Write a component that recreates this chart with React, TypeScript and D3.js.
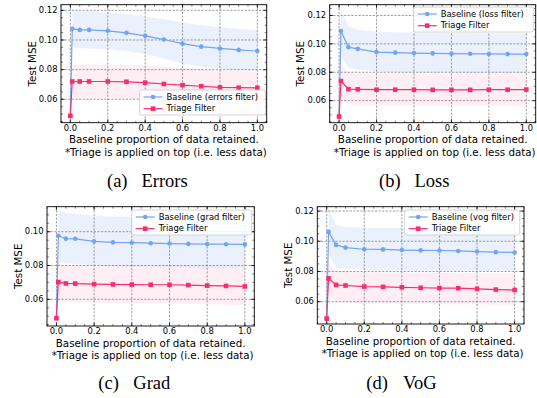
import React from 'react';
import * as d3 from 'd3';

// x positions shared by every panel (baseline proportion of data retained)
const xs = [0, 0.01, 0.05, 0.1, 0.2, 0.3, 0.4, 0.5, 0.6, 0.7, 0.8, 0.9, 1.0];

// (a) errors
const errBase = [0.0488, 0.1075, 0.1068, 0.1068, 0.1062, 0.1048, 0.1028, 0.1003, 0.0975, 0.0955, 0.0943, 0.0933, 0.0925];
const errBaseHi = [null, 0.1200, 0.1198, 0.1195, 0.1185, 0.1172, 0.1158, 0.1140, 0.1118, 0.1100, 0.1087, 0.1075, 0.1066];
const errBaseLo = [null, 0.0950, 0.0945, 0.0942, 0.0938, 0.0925, 0.0905, 0.0875, 0.0840, 0.0820, 0.0805, 0.0795, 0.0790];
const errTri = [0.0488, 0.0720, 0.0720, 0.0720, 0.0720, 0.0718, 0.0712, 0.0703, 0.0695, 0.0688, 0.0680, 0.0678, 0.0677];
const errTriHi = [null, 0.0835, 0.0835, 0.0835, 0.0834, 0.0832, 0.0828, 0.0820, 0.0810, 0.0802, 0.0795, 0.0790, 0.0788];
const errTriLo = [null, 0.0605, 0.0605, 0.0605, 0.0605, 0.0604, 0.0598, 0.0590, 0.0582, 0.0575, 0.0568, 0.0566, 0.0566];

// (b) loss
const lossBase = [0.0488, 0.1090, 0.0977, 0.0965, 0.0942, 0.0938, 0.0935, 0.0933, 0.0931, 0.0930, 0.0929, 0.0928, 0.0928];
const lossBaseHi = [null, 0.1245, 0.1125, 0.1100, 0.1085, 0.1082, 0.1080, 0.1078, 0.1077, 0.1076, 0.1075, 0.1075, 0.1075];
const lossBaseLo = [null, 0.0920, 0.0830, 0.0820, 0.0805, 0.0800, 0.0798, 0.0797, 0.0796, 0.0795, 0.0795, 0.0795, 0.0795];
const lossTri = [0.0488, 0.0738, 0.0681, 0.0680, 0.0677, 0.0677, 0.0677, 0.0676, 0.0676, 0.0676, 0.0677, 0.0677, 0.0678];
const lossTriHi = [null, 0.0860, 0.0800, 0.0795, 0.0792, 0.0791, 0.0790, 0.0790, 0.0790, 0.0790, 0.0790, 0.0790, 0.0790];
const lossTriLo = [null, 0.0620, 0.0575, 0.0568, 0.0565, 0.0564, 0.0564, 0.0564, 0.0564, 0.0564, 0.0565, 0.0565, 0.0566];

// (c) grad
const gradBase = [0.0488, 0.0976, 0.0959, 0.0958, 0.0943, 0.0937, 0.0935, 0.0932, 0.0930, 0.0928, 0.0927, 0.0926, 0.0925];
const gradBaseHi = [null, 0.1130, 0.1110, 0.1105, 0.1095, 0.1090, 0.1088, 0.1085, 0.1082, 0.1080, 0.1078, 0.1077, 0.1075];
const gradBaseLo = [null, 0.0820, 0.0812, 0.0810, 0.0800, 0.0795, 0.0793, 0.0792, 0.0790, 0.0788, 0.0787, 0.0786, 0.0785];
const gradTri = [0.0488, 0.0702, 0.0694, 0.0693, 0.0690, 0.0688, 0.0687, 0.0686, 0.0686, 0.0684, 0.0681, 0.0679, 0.0676];
const gradTriHi = [null, 0.0810, 0.0805, 0.0803, 0.0800, 0.0798, 0.0797, 0.0796, 0.0796, 0.0795, 0.0793, 0.0791, 0.0788];
const gradTriLo = [null, 0.0590, 0.0585, 0.0583, 0.0580, 0.0578, 0.0577, 0.0576, 0.0576, 0.0573, 0.0570, 0.0568, 0.0565];

// (d) vog
const vogBase = [0.0488, 0.1062, 0.0976, 0.0958, 0.0947, 0.0946, 0.0942, 0.0940, 0.0939, 0.0936, 0.0932, 0.0928, 0.0926];
const vogBaseHi = [null, 0.1210, 0.1110, 0.1095, 0.1090, 0.1090, 0.1089, 0.1089, 0.1088, 0.1087, 0.1086, 0.1086, 0.1085];
const vogBaseLo = [null, 0.0910, 0.0830, 0.0818, 0.0810, 0.0808, 0.0806, 0.0805, 0.0805, 0.0805, 0.0805, 0.0805, 0.0805];
const vogTri = [0.0488, 0.0754, 0.0711, 0.0707, 0.0700, 0.0698, 0.0695, 0.0692, 0.0690, 0.0689, 0.0685, 0.0680, 0.0677];
const vogTriHi = [null, 0.0855, 0.0805, 0.0800, 0.0795, 0.0794, 0.0793, 0.0792, 0.0791, 0.0790, 0.0789, 0.0788, 0.0787];
const vogTriLo = [null, 0.0645, 0.0600, 0.0595, 0.0588, 0.0586, 0.0585, 0.0584, 0.0583, 0.0582, 0.0581, 0.0580, 0.0578];

const xTicks = [0, 0.2, 0.4, 0.6, 0.8, 1.0];
const yTicks = [0.06, 0.08, 0.1, 0.12];

const BLUE = '#74a3f4';
const PINK = '#f92d6d';
const FONT = '"DejaVu Sans", sans-serif';
const SERIF = '"Liberation Serif", "Times New Roman", serif';

const panels = [
  {
    tag: '(a)', name: 'Errors', legendName: 'Baseline (errors filter)',
    base: errBase, baseHi: errBaseHi, baseLo: errBaseLo,
    tri: errTri, triHi: errTriHi, triLo: errTriLo,
    left: 61, right: 266.7, top: 4.7, bottom: 122.7, yDomain: [0.0442, 0.1238],
    legend: { x: 139.5, y: 90, w: 126 }, capTagX: 107, capNameX: 141.5, capY: 187,
  },
  {
    tag: '(b)', name: 'Loss', legendName: 'Baseline (loss filter)',
    base: lossBase, baseHi: lossBaseHi, baseLo: lossBaseLo,
    tri: lossTri, triHi: lossTriHi, triLo: lossTriLo,
    left: 329.7, right: 535.7, top: 4.7, bottom: 122.7, yDomain: [0.04445, 0.1276],
    legend: { x: 413.7, y: 7, w: 120 }, capTagX: 379, capNameX: 414.5, capY: 187,
  },
  {
    tag: '(c)', name: 'Grad', legendName: 'Baseline (grad filter)',
    base: gradBase, baseHi: gradBaseHi, baseLo: gradBaseLo,
    tri: gradTri, triHi: gradTriHi, triLo: gradTriLo,
    left: 47, right: 254.3, top: 206.7, bottom: 326, yDomain: [0.0442, 0.1148],
    legend: { x: 131.7, y: 210, w: 120 }, capTagX: 98.3, capNameX: 133.3, capY: 388.5,
  },
  {
    tag: '(d)', name: 'VoG', legendName: 'Baseline (vog filter)',
    base: vogBase, baseHi: vogBaseHi, baseLo: vogBaseLo,
    tri: vogTri, triHi: vogTriHi, triLo: vogTriLo,
    left: 317.3, right: 524, top: 206.7, bottom: 324, yDomain: [0.0452, 0.1229],
    legend: { x: 404.7, y: 210, w: 115 }, capTagX: 366.3, capNameX: 403, capY: 388.5,
  },
];

function Panel({ p, idx }: { p: any; idx: number }) {
  const x = d3.scaleLinear().domain([-0.05, 1.05]).range([p.left, p.right]);
  const y = d3.scaleLinear().domain(p.yDomain).range([p.bottom, p.top]);

  const line = d3.line<number>().x((_, i) => x(xs[i])).y(d => y(d));
  const band = (hi: (number | null)[], lo: (number | null)[]) =>
    d3.area<number | null>()
      .defined(d => d != null)
      .x((_, i) => x(xs[i]))
      .y0((_, i) => y(lo[i] as number))
      .y1(d => y(d as number))(hi) || '';

  const [y0, y1] = p.yDomain;
  const yMajor = yTicks.filter(t => t >= y0 && t <= y1);
  const yMinor = d3.range(Math.ceil(y0 / 0.005) * 0.005, y1, 0.005).filter(t => t >= y0 && t <= y1);
  const xMinor = d3.range(-0.05, 1.06, 0.05);

  const W = p.right - p.left;
  const H = p.bottom - p.top;
  const clipId = `clip-${idx}`;
  const lg = p.legend;

  return (
    <g>
      <defs>
        <clipPath id={clipId}>
          <rect x={p.left} y={p.top} width={W} height={H} />
        </clipPath>
      </defs>
      <g clipPath={`url(#${clipId})`}>
        <path d={band(p.baseHi, p.baseLo)} fill={BLUE} fillOpacity={0.15} />
        <path d={band(p.triHi, p.triLo)} fill={PINK} fillOpacity={0.08} />
        {xTicks.map(t => (
          <line key={'gx' + t} x1={x(t)} x2={x(t)} y1={p.top} y2={p.bottom}
            stroke="#666" strokeWidth={0.8} strokeDasharray="2.2,1.4" strokeOpacity={0.8} />
        ))}
        {yMajor.map(t => (
          <line key={'gy' + t} x1={p.left} x2={p.right} y1={y(t)} y2={y(t)}
            stroke="#666" strokeWidth={0.8} strokeDasharray="2.2,1.4" strokeOpacity={0.8} />
        ))}
        <path d={line(p.base) || ''} fill="none" stroke={BLUE} strokeWidth={1.2} />
        {p.base.map((v: number, i: number) => (
          <circle key={'bc' + i} cx={x(xs[i])} cy={y(v)} r={2.3} fill={BLUE} />
        ))}
        <path d={line(p.tri) || ''} fill="none" stroke={PINK} strokeWidth={1.2} />
        {p.tri.map((v: number, i: number) => (
          <rect key={'tr' + i} x={x(xs[i]) - 2.3} y={y(v) - 2.3} width={4.6} height={4.6} fill={PINK} />
        ))}
      </g>

      {/* ticks on all four sides, pointing inward */}
      {xTicks.map(t => (
        <g key={'xt' + t}>
          <line x1={x(t)} x2={x(t)} y1={p.bottom} y2={p.bottom - 3.5} stroke="#000" strokeWidth={0.7} />
          <line x1={x(t)} x2={x(t)} y1={p.top} y2={p.top + 3.5} stroke="#000" strokeWidth={0.7} />
          <text x={x(t)} y={p.bottom + 8.2} textAnchor="middle" fontSize={8.4} fontFamily={FONT}>{t.toFixed(1)}</text>
        </g>
      ))}
      {xMinor.map(t => (
        <g key={'xm' + t}>
          <line x1={x(t)} x2={x(t)} y1={p.bottom} y2={p.bottom - 2} stroke="#000" strokeWidth={0.5} />
          <line x1={x(t)} x2={x(t)} y1={p.top} y2={p.top + 2} stroke="#000" strokeWidth={0.5} />
        </g>
      ))}
      {yMajor.map(t => (
        <g key={'yt' + t}>
          <line x1={p.left} x2={p.left + 3.5} y1={y(t)} y2={y(t)} stroke="#000" strokeWidth={0.7} />
          <line x1={p.right} x2={p.right - 3.5} y1={y(t)} y2={y(t)} stroke="#000" strokeWidth={0.7} />
          <text x={p.left - 3.5} y={y(t)} dy="0.33em" textAnchor="end" fontSize={8.4} fontFamily={FONT}>{t.toFixed(2)}</text>
        </g>
      ))}
      {yMinor.map(t => (
        <g key={'ym' + t}>
          <line x1={p.left} x2={p.left + 2} y1={y(t)} y2={y(t)} stroke="#000" strokeWidth={0.5} />
          <line x1={p.right} x2={p.right - 2} y1={y(t)} y2={y(t)} stroke="#000" strokeWidth={0.5} />
        </g>
      ))}
      <rect x={p.left} y={p.top} width={W} height={H} fill="none" stroke="#000" strokeWidth={0.9} />

      {/* legend */}
      <g>
        <rect x={lg.x} y={lg.y} width={lg.w} height={25} rx={2} fill="#fff" fillOpacity={0.85} stroke="#ccc" strokeWidth={0.8} />
        <line x1={lg.x + 4} x2={lg.x + 23} y1={lg.y + 7} y2={lg.y + 7} stroke={BLUE} strokeWidth={1.2} />
        <circle cx={lg.x + 13.5} cy={lg.y + 7} r={2.3} fill={BLUE} />
        <text x={lg.x + 27} y={lg.y + 7} dy="0.33em" fontSize={8.4} fontFamily={FONT}>{p.legendName}</text>
        <line x1={lg.x + 4} x2={lg.x + 23} y1={lg.y + 18.7} y2={lg.y + 18.7} stroke={PINK} strokeWidth={1.2} />
        <rect x={lg.x + 13.5 - 2.3} y={lg.y + 18.7 - 2.3} width={4.6} height={4.6} fill={PINK} />
        <text x={lg.x + 27} y={lg.y + 18.7} dy="0.33em" fontSize={8.4} fontFamily={FONT}>Triage Filter</text>
      </g>

      {/* axis labels */}
      <text transform={`translate(${p.left - 29.5},${(p.top + p.bottom) / 2}) rotate(-90)`} textAnchor="middle"
        dominantBaseline="central" fontSize={10.3} fontFamily={FONT}>Test MSE</text>
      <text x={(p.left + p.right) / 2} y={p.bottom + 20.5} textAnchor="middle" fontSize={10.3} fontFamily={FONT}>
        Baseline proportion of data retained.
      </text>
      <text x={(p.left + p.right) / 2 + 2} y={p.bottom + 33} textAnchor="middle" fontSize={10.3} fontFamily={FONT}>
        *Triage is applied on top (i.e. less data)
      </text>

      {/* caption */}
      <text x={p.capTagX} y={p.capY} fontSize={18.5} fontFamily={SERIF}>{p.tag}</text>
      <text x={p.capNameX} y={p.capY} fontSize={18.5} fontFamily={SERIF}>{p.name}</text>
    </g>
  );
}

export default function App() {
  return (
    <svg width={537} height={398} style={{ position: 'absolute', left: 0, top: 0, background: '#fff' }}>
      {panels.map((p, i) => (
        <Panel key={p.tag} p={p} idx={i} />
      ))}
    </svg>
  );
}
